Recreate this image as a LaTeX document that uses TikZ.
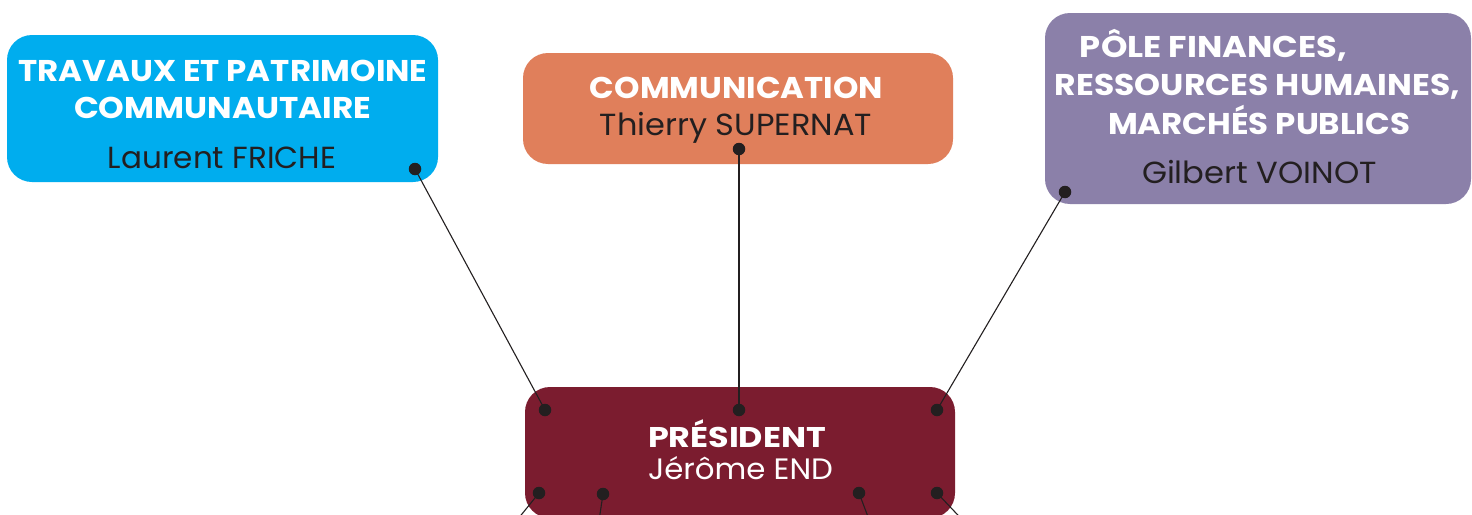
\documentclass[tikz,border=0pt]{standalone}
\usepackage{fontspec}
\setmainfont{Poppins}
\usepackage{graphicx}
\definecolor{cblue}{HTML}{00ADEE}
\definecolor{corange}{HTML}{E07F5B}
\definecolor{cpurple}{HTML}{8B80A9}
\definecolor{cmaroon}{HTML}{7B1C2F}
\definecolor{cdark}{HTML}{231F20}
\newcommand\hw[2]{\resizebox{#1}{\height}{#2}}
\tikzset{
  orgbox/.style={rectangle, rounded corners=25pt, inner sep=0pt, outer sep=0pt, draw=none},
  headtxt/.style={anchor=base, inner sep=0pt, text=white, font=\fontsize{30}{36}\selectfont\bfseries},
  prestxt/.style={anchor=base, inner sep=0pt, text=white, font=\fontsize{28.5}{34}\selectfont\bfseries},
  persontxt/.style={anchor=base, inner sep=0pt, text=cdark, font=\fontsize{30.5}{36}\selectfont},
  presperson/.style={anchor=base, inner sep=0pt, text=white, font=\fontsize{29.5}{34}\selectfont},
  dotnode/.style={circle, fill=cdark, inner sep=0pt, minimum size=12.5pt},
  conn/.style={draw=cdark, line width=1.1pt}
}
\begin{document}
\begin{tikzpicture}[x=1pt,y=-1pt]
\useasboundingbox (0,0) rectangle (1472,514);
\fill[white] (0,0) rectangle (1472,514);
\clip (0,0) rectangle (1472,514);
% boxes
\node[orgbox, fill=cblue, minimum width=431pt, minimum height=147pt] (travaux) at (222.5,108.5) {};
\node[orgbox, fill=corange, minimum width=430pt, minimum height=111pt] (comm) at (738,108.5) {};
\node[orgbox, fill=cpurple, minimum width=426pt, minimum height=191pt] (pole) at (1258,108.5) {};
\node[orgbox, fill=cmaroon, minimum width=430pt, minimum height=131pt] (president) at (740,452.5) {};
% texts
\node[headtxt] (t1a) at (223,81) {\hw{409pt}{TRAVAUX ET PATRIMOINE}};
\node[headtxt] (t1b) at (222.5,118) {\hw{297pt}{COMMUNAUTAIRE}};
\node[persontxt] (t1c) at (222,168) {\hw{228pt}{Laurent FRICHE}};
\node[headtxt] (t2a) at (736.5,98) {\hw{293pt}{COMMUNICATION}};
\node[persontxt] (t2b) at (736,135) {\hw{272pt}{Thierry SUPERNAT}};
\node[headtxt] (t3a) at (1213.5,57) {\hw{267pt}{PÔLE FINANCES,}};
\node[headtxt] (t3b) at (1257.5,95) {\hw{405pt}{RESSOURCES HUMAINES,}};
\node[headtxt] (t3c) at (1259,134) {\hw{302pt}{MARCHÉS PUBLICS}};
\node[persontxt] (t3d) at (1259.5,183) {\hw{235pt}{Gilbert VOINOT}};
\node[prestxt] (t4a) at (737,447) {\hw{178pt}{PRÉSIDENT}};
\node[presperson] (t4b) at (740.5,479) {\hw{185pt}{Jérôme END}};
% dots
\node[dotnode] (d1) at (415,169) {};
\node[dotnode] (d2) at (739,149) {};
\node[dotnode] (d3) at (1065,192) {};
\node[dotnode] (p1) at (545,410) {};
\node[dotnode] (p2) at (739,410) {};
\node[dotnode] (p3) at (937,410) {};
\node[dotnode] (q1) at (539,493) {};
\node[dotnode] (q2) at (603,494) {};
\node[dotnode] (q3) at (859,493) {};
\node[dotnode] (q4) at (937,493) {};
\coordinate (e1) at (509,530);
\coordinate (e2) at (597.6,530);
\coordinate (e3) at (873,530);
\coordinate (e4) at (972,530);
% connectors
\draw[conn] (d1.center) -- (p1.center);
\draw[conn] (d2.center) -- (p2.center);
\draw[conn] (d3.center) -- (p3.center);
\draw[conn] (q1.center) -- (e1);
\draw[conn] (q2.center) -- (e2);
\draw[conn] (q3.center) -- (e3);
\draw[conn] (q4.center) -- (e4);
\end{tikzpicture}
\end{document}
